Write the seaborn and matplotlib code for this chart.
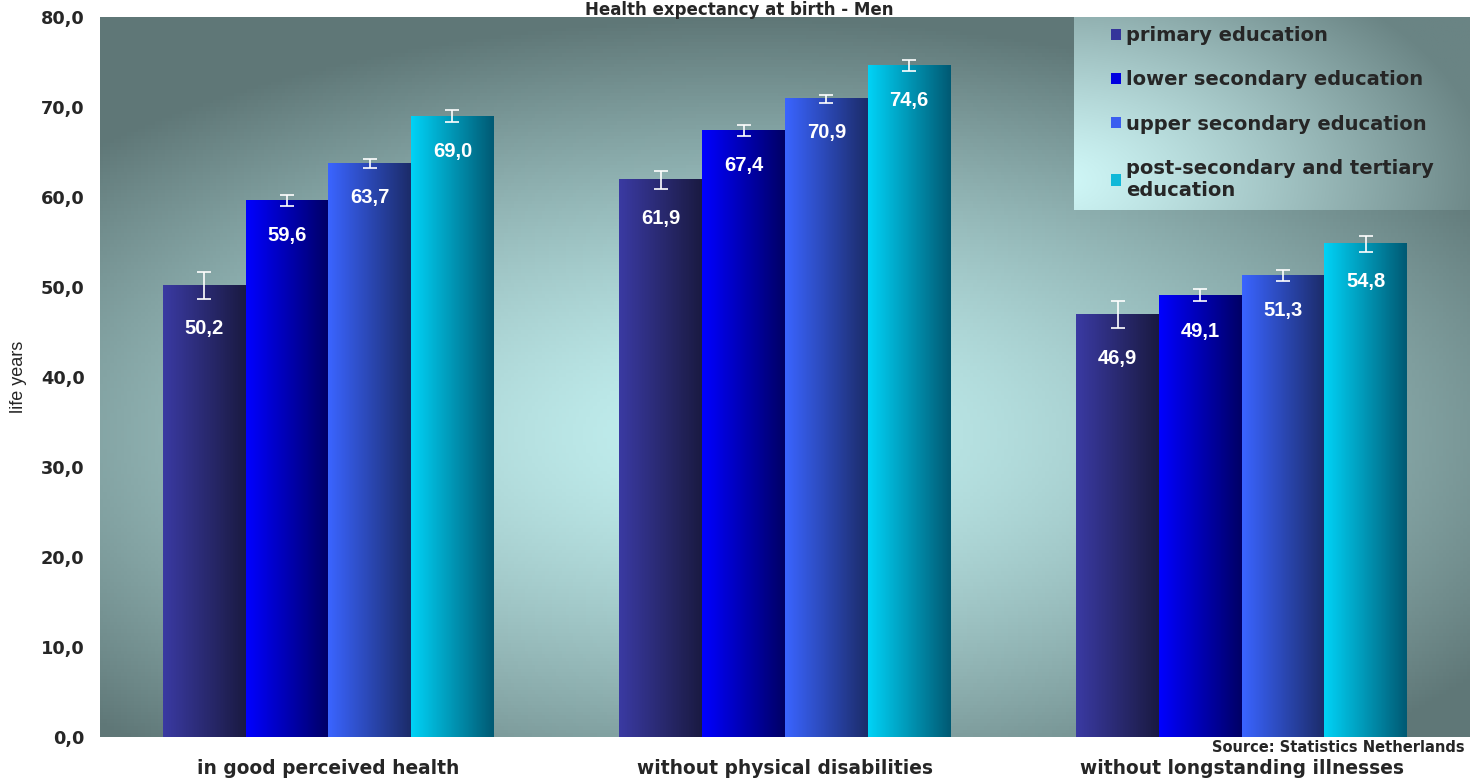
import numpy as np
import pandas as pd
import matplotlib
matplotlib.use('Agg')
import matplotlib.pyplot as plt
import seaborn as sns
from matplotlib.colors import LinearSegmentedColormap, to_rgb

# data
categories = ['in good perceived health', 'without physical disabilities', 'without longstanding illnesses']
levels = ['primary education', 'lower secondary education', 'upper secondary education',
          'post-secondary and tertiary\neducation']
primary = [50.2, 61.9, 46.9]
lower_sec = [59.6, 67.4, 49.1]
upper_sec = [63.7, 70.9, 51.3]
tertiary = [69.0, 74.6, 54.8]
err_primary = [1.5, 1.0, 1.5]
err_lower = [0.6, 0.6, 0.7]
err_upper = [0.5, 0.4, 0.6]
err_tertiary = [0.7, 0.6, 0.9]

values = [primary, lower_sec, upper_sec, tertiary]
errors = [err_primary, err_lower, err_upper, err_tertiary]

rows = []
for lev, vals, errs in zip(levels, values, errors):
    for cat, v, e in zip(categories, vals, errs):
        rows.append({'category': cat, 'level': lev, 'value': v, 'err': e})
df = pd.DataFrame(rows)

# gradient (light left -> dark right) for each series
bar_grads = [('#3a3aa2', '#1a1a42'), ('#0000ff', '#000066'),
             ('#3a64ff', '#1c2c6a'), ('#00d2f6', '#005a74')]
legend_colors = ['#34349a', '#0000e0', '#3a5ef0', '#10b8d8']

sns.set_theme(style='white')
plt.rcParams['font.family'] = ['Liberation Sans', 'DejaVu Sans']

fig = plt.figure(figsize=(14.78, 7.81), dpi=100)
ax = fig.add_axes([100 / 1478, 1 - 737 / 781, 1370 / 1478, 720 / 781])

# background: wide elliptical light cyan glow on slate grey
nx, ny = 400, 200
xx, yy = np.meshgrid(np.linspace(0, 1, nx), np.linspace(1, 0, ny))
r = np.sqrt(((xx - 0.47) / 0.66) ** 2 + ((yy - 0.42) / 0.58) ** 2)
t = np.clip(r, 0, 1) ** 1.4
c_in = np.array(to_rgb('#c4f2f2'))
c_out = np.array(to_rgb('#5f7777'))
bg = c_in[None, None, :] * (1 - t[..., None]) + c_out[None, None, :] * t[..., None]
ax.imshow(bg, extent=[0, 1, 0, 1], transform=ax.transAxes, aspect='auto', zorder=0)

sns.barplot(data=df, x='category', y='value', hue='level', hue_order=levels,
            order=categories, palette=legend_colors, width=0.725, gap=0,
            errorbar=None, ax=ax, legend=False, zorder=2)

# gradient fill for each bar, error bars and labels
for i, lev in enumerate(levels):
    cont = ax.containers[i]
    cmap = LinearSegmentedColormap.from_list('g%d' % i, list(bar_grads[i]))
    grad = np.linspace(0, 1, 64).reshape(1, -1)
    for j, patch in enumerate(cont.patches):
        x0 = patch.get_x()
        w = patch.get_width()
        h = patch.get_height()
        ax.imshow(grad, cmap=cmap, extent=[x0, x0 + w, 0, h], aspect='auto', zorder=2)
        patch.set_facecolor('none')
        patch.set_edgecolor('none')
        xc = x0 + w / 2
        e = errors[i][j]
        ax.errorbar(xc, h, yerr=e, fmt='none', ecolor='white', elinewidth=1.2,
                    capsize=5, capthick=1.2, zorder=4)
        ax.text(xc, h - e - 3.3, f'{h:.1f}'.replace('.', ','), color='white',
                ha='center', va='center', fontsize=14.5, fontweight='bold', zorder=5)

ax.set_xlim(-0.5, 2.5)
ax.set_ylim(0, 80)

ax.set_yticks(np.arange(0, 81, 10))
ax.set_yticklabels([f'{v:.1f}'.replace('.', ',') for v in np.arange(0, 81, 10)],
                   fontsize=12.8, fontweight='bold', family='DejaVu Sans')
ax.set_xticks(range(3))
ax.set_xticklabels(categories, fontsize=13.4, fontweight='bold', family='DejaVu Sans')
ax.tick_params(axis='x', pad=16, length=0)
ax.tick_params(axis='y', pad=11, length=0)
ax.set_xlabel('')
ax.set_ylabel('life years', fontsize=13, labelpad=10)
for s in ax.spines.values():
    s.set_visible(False)

# legend box with its own light gradient
lx0, ly0 = (1074 - 100) / 1370, (737 - 210) / 720
lw, lh = (1470 - 1074) / 1370, (210 - 17) / 720
lxx, lyy = np.meshgrid(np.linspace(0, 1, 200), np.linspace(1, 0, 100))
lt = np.clip(np.sqrt(((lxx + 0.05) / 1.1) ** 2 + ((lyy - 0.15) / 1.3) ** 2), 0, 1) ** 1.2
l_in = np.array(to_rgb('#d0f8f8'))
l_out = np.array(to_rgb('#6a8484'))
lbg = l_in[None, None, :] * (1 - lt[..., None]) + l_out[None, None, :] * lt[..., None]
ax.imshow(lbg, extent=[lx0, lx0 + lw, ly0, ly0 + lh], transform=ax.transAxes,
          aspect='auto', zorder=6)

handles = [plt.Rectangle((0, 0), 1, 1, facecolor=c, edgecolor='none') for c in legend_colors]
leg = ax.legend(handles, levels, loc='upper left', bbox_to_anchor=(lx0 + 0.018, 1.005),
                frameon=False, prop={'weight': 'bold', 'size': 14, 'family': 'DejaVu Sans'},
                handlelength=0.5, handleheight=0.5, handletextpad=0.25,
                labelspacing=1.3, borderaxespad=0.25)
leg.set_zorder(7)

fig.text(0.5, 1 - 1 / 781, 'Health expectancy at birth - Men', ha='center', va='top',
         fontsize=12, fontweight='bold', family='DejaVu Sans')
fig.text(1465 / 1478, 1 - 752 / 781, 'Source: Statistics Netherlands', ha='right',
         va='baseline', fontsize=10.5, fontweight='bold', family='DejaVu Sans')

fig.savefig('out.png', dpi=100)
